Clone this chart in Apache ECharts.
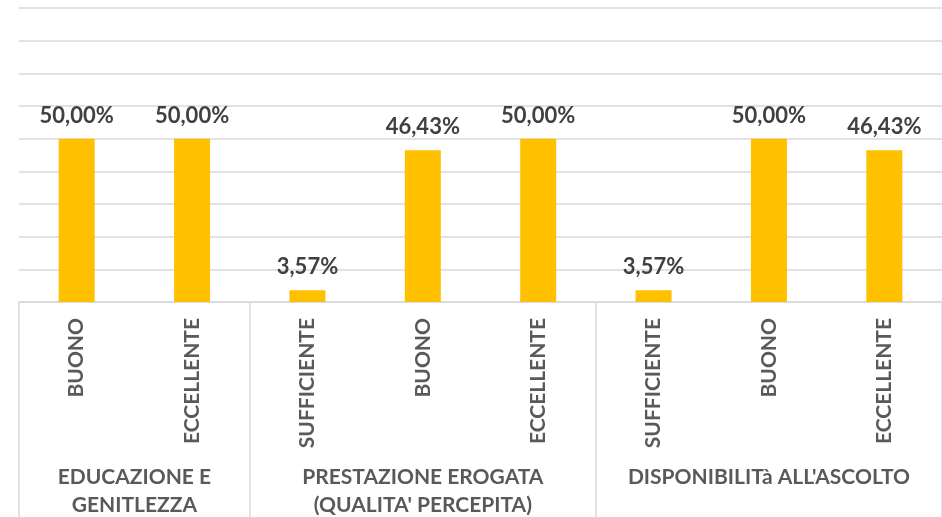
<!DOCTYPE html>
<html>
<head>
<meta charset="utf-8">
<script src="https://cdn.jsdelivr.net/npm/echarts@6/dist/echarts.min.js"></script>
<style>
  html, body { margin: 0; padding: 0; background: #fff; }
  #chart { width: 942px; height: 517px; }
</style>
</head>
<body>
<div id="chart"></div>
<script>
// sotto-categorie (asse interno) e valori in %
const subLabels = ['BUONO', 'ECCELLENTE', 'SUFFICIENTE', 'BUONO', 'ECCELLENTE', 'SUFFICIENTE', 'BUONO', 'ECCELLENTE']
const values = [50, 50, 3.57, 46.43, 50, 3.57, 50, 46.43]

// gruppi (asse esterno)
const groupNames = ['EDUCAZIONE E\nGENITLEZZA', "PRESTAZIONE EROGATA\n(QUALITA' PERCEPITA)", "DISPONIBILITà ALL'ASCOLTO"]
const groupSizes = [2, 3, 3]

const yTicks = { min: 0, max: 90, interval: 10 }

const gridColor = '#d9d9d9'
const font = 'Lato, "Noto Sans", sans-serif'

// asse dei gruppi: mezze posizioni, così i centri e i bordi cadono su slot
const slots = new Array(subLabels.length * 2 + 1).fill('')
const boundaryIdx = [0]
let pos = 0
groupNames.forEach((name, i) => {
  slots[pos * 2 + groupSizes[i]] = name
  pos += groupSizes[i]
  boundaryIdx.push(pos * 2)
})

const chart = echarts.init(document.getElementById('chart'))

chart.setOption({
  animation: false,
  grid: { left: 19, right: 0, top: 8, bottom: 215, outerBoundsMode: 'none' },
  xAxis: [
    {
      type: 'category',
      data: subLabels,
      axisLine: { lineStyle: { color: gridColor, width: 1.5 } },
      axisTick: { show: false },
      axisLabel: {
        interval: 0, rotate: 90, margin: 16,
        color: '#595959', fontFamily: font, fontWeight: 'bold', fontSize: 21,
      },
    },
    {
      type: 'category',
      position: 'bottom',
      boundaryGap: false,
      data: slots,
      axisLine: { show: false },
      axisTick: {
        interval: (i) => boundaryIdx.includes(i),
        length: 240,
        lineStyle: { color: gridColor, width: 1.5 },
      },
      axisLabel: {
        interval: (i, v) => v !== '',
        margin: 161, lineHeight: 28,
        color: '#595959', fontFamily: font, fontWeight: 'bold', fontSize: 21,
      },
    },
  ],
  yAxis: {
    type: 'value',
    ...yTicks,
    axisLabel: { show: false },
    axisLine: { show: false },
    axisTick: { show: false },
    splitLine: { lineStyle: { color: gridColor, width: 1.5 } },
  },
  series: [{
    type: 'bar',
    data: values,
    barWidth: 36,
    itemStyle: { color: '#ffc000' },
    label: {
      show: true, position: 'top', distance: 12,
      color: '#404040', fontFamily: font, fontWeight: 'bold', fontSize: 22,
      formatter: (p) => p.value.toFixed(2).replace('.', ',') + '%',
    },
  }],
})
</script>
</body>
</html>
